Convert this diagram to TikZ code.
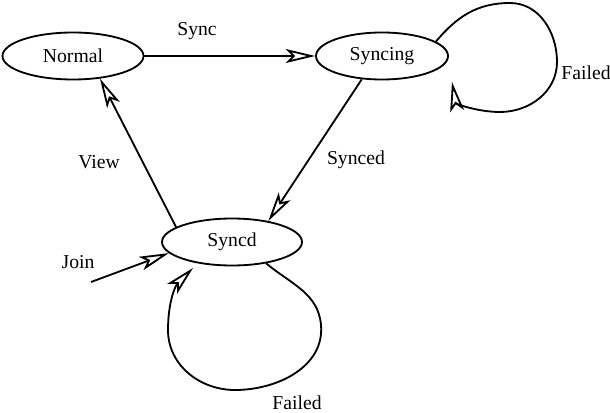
\documentclass[tikz,border=0pt]{standalone}
\usepackage{fontspec}
\setmainfont{Liberation Serif}
\usetikzlibrary{arrows.meta, shapes.geometric, positioning}

\begin{document}
\begin{tikzpicture}[x=0.025cm, y=-0.025cm, line width=1.3pt,
    >={Stealth[open, length=21pt, width=10pt, inset=5pt]},
    state/.style={draw, ellipse, minimum width=141*0.025cm, minimum height=47*0.025cm, inner sep=0pt, font=\fontsize{14}{16}\selectfont},
    lbl/.style={font=\fontsize{14}{16}\selectfont}]
    \useasboundingbox (0,0) rectangle (610,413);
    % States
    \node[state] (normal) at (73,56) {Normal};
    \node[state, minimum width=132*0.025cm] (syncing) at (382,56) {Syncing};
    \node[state, minimum width=140*0.025cm] (syncd) at (232,242) {Syncd};
    \coordinate (joinstart) at (91,282);
    \coordinate (loopend1) at (452,82);
    \coordinate (loopend2) at (193,268);
    % Transitions
    \draw[->] (normal) -- (syncing);
    \draw[->] (syncing.229) -- (syncd.30);
    \draw[->] (syncd.165) -- (normal.-40);
    \draw[->] (joinstart) -- (syncd.190);
    % Self loops
    \draw[->] (syncing.15) to[out=50,in=180] (510,3) to[out=0,in=90] (557,62)
        to[out=-90,in=0] (500,112) to[out=180,in=-80] (loopend1);
    \draw[->] (syncd.-32) to[out=-40,in=95] (321,325) to[out=-85,in=0] (235,390)
        to[out=180,in=-90] (168,330) to[out=90,in=-135] (loopend2);
    % Labels
    \node[lbl] (l1) at (197,31) {Sync};
    \node[lbl] (l2) at (356,160) {Synced};
    \node[lbl] (l3) at (99,162) {View};
    \node[lbl] (l4) at (78,262) {Join};
    \node[lbl] (l5) at (586,73) {Failed};
    \node[lbl] (l6) at (297,403) {Failed};
\end{tikzpicture}
\end{document}
